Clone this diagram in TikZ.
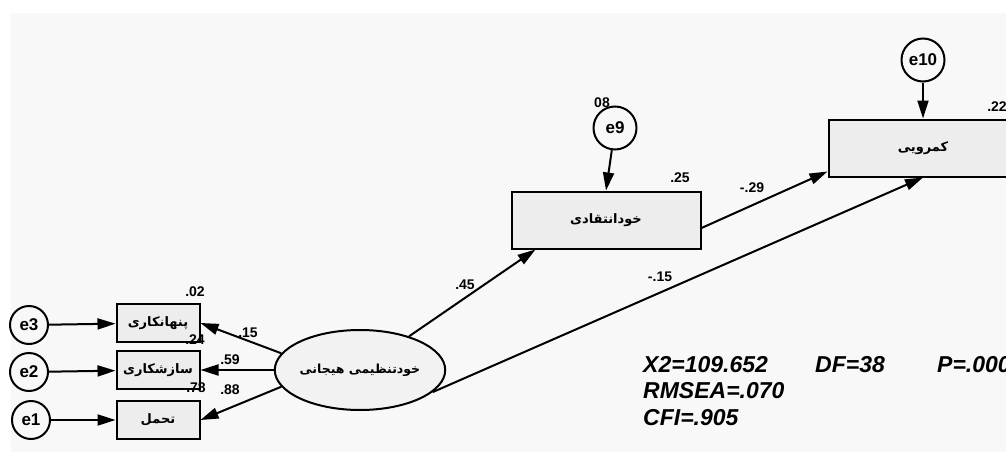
\documentclass[tikz,border=0pt]{standalone}
\usepackage{fontspec}
\setmainfont{Liberation Sans}
\newfontfamily\arabicfont[Script=Arabic,BoldFont={DejaVu Sans Bold}]{DejaVu Sans}
\TeXXeTstate=1
\usetikzlibrary{arrows.meta}
\usetikzlibrary{shapes.geometric}
\usepackage{xcolor}
\definecolor{BgGray}{RGB}{248,248,248}
\definecolor{BoxGray}{RGB}{237,237,237}
\definecolor{LatGray}{RGB}{242,242,242}
\newcommand{\fatext}[1]{{\arabicfont\bfseries\beginR #1\endR}}
\tikzstyle{ObsBox}=[rectangle,draw=black,fill=BoxGray,line width=2pt,minimum width=83pt,
minimum height=38pt,inner sep=0pt,font=\fontsize{13}{15}\selectfont]
\tikzstyle{BigBox}=[ObsBox,minimum width=189pt,minimum height=57pt]
\tikzstyle{ErrNode}=[circle,draw=black,fill=BgGray,line width=2pt,minimum size=38pt,
inner sep=0pt,font=\bfseries\fontsize{17}{19}\selectfont]
\tikzstyle{LatNode}=[ellipse,draw=black,fill=LatGray,line width=2pt,minimum width=164pt,
minimum height=80pt,inner sep=0pt,font=\fontsize{12.5}{14}\selectfont]
\tikzstyle{PathEdge}=[-{Triangle[length=18pt,width=11pt]},line width=2pt]
\tikzstyle{Coef}=[font=\bfseries\fontsize{14}{16}\selectfont,inner sep=0pt]
\tikzstyle{FitText}=[font=\bfseries\itshape\fontsize{23}{26}\selectfont,anchor=base west,inner sep=0pt]

\begin{document}
\begin{tikzpicture}[x=1pt,y=-1pt]
        \useasboundingbox(0,0)rectangle(1006,452);
        \fill[white](0,0)rectangle(1006,452);
        \fill[BgGray](11,13)rectangle(1006,452);
        % measured side
        \node[ObsBox](hide)at(158,323){\fatext{پنهانکاری}};
        \node[ObsBox](adapt)at(158,370){\fatext{سازشکاری}};
        \node[ObsBox](bear)at(158,420){\fatext{تحمل}};
        \node[ErrNode](e3)at(29,325){e3};
        \node[ErrNode](e2)at(29,372){e2};
        \node[ErrNode](e1)at(31,420){e1};
        \node[LatNode](emo)at(360,370){\fatext{خودتنظیمی هیجانی}};
        % structural side
        \node[BigBox](crit)at(606,220){\fatext{خودانتقادی}};
        \node[BigBox](shy)at(923,148){\fatext{کمرویی}};
        \node[ErrNode,minimum size=43pt](e9)at(615,128){e9};
        \node[ErrNode,minimum size=43pt](e10)at(923,60){e10};
        \draw[PathEdge](e3)--(hide);
        \draw[PathEdge](e2)--(adapt);
        \draw[PathEdge](e1)--(bear);
        \draw[PathEdge](emo.168)--(hide.east);
        \draw[PathEdge](emo.west)--(adapt.east);
        \draw[PathEdge](emo.192)--(bear.east);
        \draw[PathEdge](e9)--(crit.north);
        \draw[PathEdge](e10)--(shy.north);
        \draw[PathEdge](emo)--([xshift=25pt]crit.south west);
        \draw[PathEdge]([yshift=-8pt]crit.east)--([yshift=6pt]shy.south west);
        \draw[PathEdge](emo.-17)--(shy.south);
        % estimates
        \node[Coef](r1)at(195,292){.02};
        \node[Coef](r2)at(195,340){.24};
        \node[Coef](r3)at(196,388){.78};
        \node[Coef](r9)at(602,103){08};
        \node[Coef](rc)at(680,178){.25};
        \node[Coef](rs)at(997,107){.22};
        \node[Coef](b1)at(248,333){.15};
        \node[Coef](b2)at(230,360){.59};
        \node[Coef](b3)at(230,390){.88};
        \node[Coef](b4)at(465,285){.45};
        \node[Coef](b5)at(752,188){-.29};
        \node[Coef](b6)at(660,277){-.15};
        % fit indices
        \node[FitText](chi)at(643,372){X2=109.652};
        \node[FitText](df)at(815,372){DF=38};
        \node[FitText](pv)at(937,372){P=.000};
        \node[FitText](rmsea)at(643,398){RMSEA=.070};
        \node[FitText](cfi)at(643,425){CFI=.905};
\end{tikzpicture}
\end{document}
